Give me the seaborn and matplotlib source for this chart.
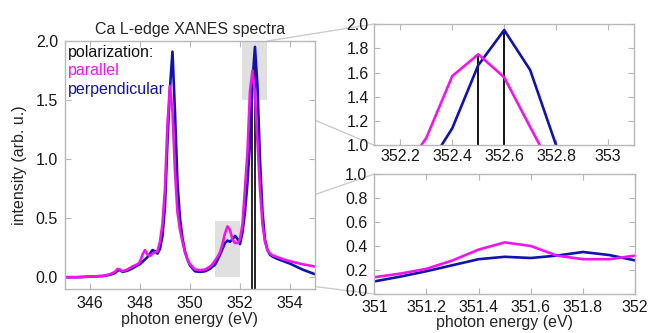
import numpy as np
import pandas as pd
import matplotlib
matplotlib.use("Agg")
import matplotlib.pyplot as plt
import seaborn as sns
from matplotlib.patches import Rectangle, ConnectionPatch
from matplotlib.ticker import FuncFormatter
from matplotlib.transforms import ScaledTranslation

# ---- data ----
energy = [345.0, 345.5, 346.0, 346.5, 346.8, 347.0, 347.1, 347.2, 347.3, 347.5,
          347.7, 347.9, 348.0, 348.1, 348.2, 348.3, 348.4, 348.5, 348.6, 348.7,
          348.8, 348.9, 349.0, 349.1, 349.2, 349.3, 349.4, 349.5, 349.6, 349.7,
          349.8, 349.9, 350.0, 350.2, 350.4, 350.6, 350.8, 350.9, 351.0, 351.1,
          351.2, 351.3, 351.4, 351.5, 351.6, 351.7, 351.8, 351.9, 352.0, 352.1,
          352.2, 352.3, 352.4, 352.5, 352.6, 352.7, 352.8, 352.9, 353.0, 353.1,
          353.2, 353.3, 353.5, 353.75, 354.0, 354.5, 355.0]
parallel = [0.00, 0.00, 0.005, 0.01, 0.025, 0.045, 0.07, 0.065, 0.05, 0.065,
            0.09, 0.11, 0.13, 0.19, 0.23, 0.19, 0.18, 0.20, 0.21, 0.22,
            0.30, 0.45, 0.75, 1.30, 1.62, 1.40, 0.90, 0.55, 0.40, 0.30,
            0.21, 0.15, 0.11, 0.065, 0.06, 0.065, 0.09, 0.11, 0.14, 0.17,
            0.21, 0.28, 0.37, 0.43, 0.40, 0.32, 0.29, 0.29, 0.32, 0.45,
            0.75, 1.06, 1.57, 1.75, 1.56, 1.15, 0.75, 0.45, 0.30, 0.23,
            0.20, 0.185, 0.17, 0.15, 0.135, 0.11, 0.09]
perpendicular = [0.00, 0.00, 0.005, 0.01, 0.02, 0.035, 0.055, 0.06, 0.045, 0.055,
                 0.075, 0.10, 0.11, 0.13, 0.15, 0.17, 0.20, 0.23, 0.22, 0.20,
                 0.24, 0.35, 0.60, 1.15, 1.60, 1.91, 1.40, 0.80, 0.50, 0.33,
                 0.22, 0.15, 0.10, 0.05, 0.045, 0.05, 0.07, 0.09, 0.105, 0.145,
                 0.19, 0.24, 0.29, 0.31, 0.30, 0.32, 0.35, 0.325, 0.28, 0.38,
                 0.55, 0.80, 1.14, 1.66, 1.95, 1.62, 1.00, 0.55, 0.32, 0.23,
                 0.19, 0.175, 0.155, 0.135, 0.115, 0.065, 0.025]
peak_positions = [352.5, 352.6]
peak_heights = [1.75, 1.95]

main_xticks = [346, 348, 350, 352, 354]
main_yticks = [0.0, 0.5, 1.0, 1.5, 2.0]
top_xticks = [352.2, 352.4, 352.6, 352.8, 353.0]
top_yticks = [1.0, 1.2, 1.4, 1.6, 1.8, 2.0]
bot_xticks = [351.0, 351.2, 351.4, 351.6, 351.8, 352.0]
bot_yticks = [0.0, 0.2, 0.4, 0.6, 0.8, 1.0]

df = pd.DataFrame({"energy": energy, "parallel": parallel, "perpendicular": perpendicular})

# ---- style ----
sns.set_theme(style="white")
plt.rcParams["font.family"] = ["Liberation Sans", "DejaVu Sans"]
MAG = "#f014f0"
BLU = "#1212b0"
SPINE = "#b8b8b8"
FS = 11.5

fig = plt.figure(figsize=(6.51, 3.33), dpi=100)
ax = fig.add_axes([0.0998, 0.1321, 0.384, 0.7447])
axt = fig.add_axes([0.575, 0.5637, 0.399, 0.3643])
axb = fig.add_axes([0.575, 0.1171, 0.4005, 0.3604])

def style(a):
    for s in a.spines.values():
        s.set_color(SPINE)
        s.set_linewidth(1.0)
    a.tick_params(direction="in", length=4, width=0.8, color=SPINE,
                  labelsize=FS, labelcolor="#1a1a1a", pad=5,
                  top=True, right=True, bottom=True, left=True)

def draw(a):
    sns.lineplot(data=df, x="energy", y="perpendicular", ax=a, color=BLU,
                 lw=1.9, estimator=None, sort=False)
    sns.lineplot(data=df, x="energy", y="parallel", ax=a, color=MAG,
                 lw=1.9, estimator=None, sort=False)

# main panel
ax.add_patch(Rectangle((352.1, 1.5), 1.0, 0.5, color="#e0e0e0", lw=0, zorder=0))
ax.add_patch(Rectangle((351.0, 0.0), 1.0, 0.48, color="#e0e0e0", lw=0, zorder=0))
ax.vlines(peak_positions, -0.1, peak_heights, color="black", lw=1.2, zorder=1)
draw(ax)
ax.set_xlim(345, 355)
ax.set_ylim(-0.1, 2.0)
ax.set_xticks(main_xticks)
ax.set_yticks(main_yticks)
ax.yaxis.set_major_formatter(FuncFormatter(lambda v, p: f"{v:.1f}"))
ax.set_xlabel("photon energy (eV)", fontsize=FS, labelpad=1)
ax.set_ylabel("intensity (arb. u.)", fontsize=FS, labelpad=6)
ax.set_title("Ca L-edge XANES spectra", fontsize=FS, pad=5)
style(ax)
ax.text(0.012, 0.953, "polarization:", transform=ax.transAxes, color="#111111",
        fontsize=FS, va="center", ha="left")
ax.text(0.012, 0.880, "parallel", transform=ax.transAxes, color=MAG,
        fontsize=FS, va="center", ha="left")
ax.text(0.012, 0.805, "perpendicular", transform=ax.transAxes, color=BLU,
        fontsize=FS, va="center", ha="left")

# top-right zoom
axt.vlines(peak_positions, 1.0, peak_heights, color="black", lw=1.3, zorder=1)
draw(axt)
axt.set_xlim(352.1, 353.1)
axt.set_ylim(1.0, 2.0)
axt.set_xticks(top_xticks)
axt.set_yticks(top_yticks)
axt.xaxis.set_major_formatter(FuncFormatter(lambda v, p: f"{round(v, 1):g}"))
axt.yaxis.set_major_formatter(FuncFormatter(lambda v, p: f"{v:.1f}"))
axt.set_xlabel("")
axt.set_ylabel("")
style(axt)
axt.tick_params(axis="x", pad=3)
axt.tick_params(axis="y", pad=4)

# bottom-right zoom
draw(axb)
axb.set_xlim(351.0, 352.0)
axb.set_ylim(0.0, 1.0)
axb.set_xticks(bot_xticks)
axb.set_yticks(bot_yticks)
axb.xaxis.set_major_formatter(FuncFormatter(lambda v, p: f"{round(v, 1):g}"))
axb.yaxis.set_major_formatter(FuncFormatter(lambda v, p: f"{v:.1f}"))
axb.set_xlabel("photon energy (eV)", fontsize=FS, labelpad=0)
axb.set_ylabel("")
style(axb)
axb.tick_params(axis="x", pad=4.5)
axb.tick_params(axis="y", pad=5)
# nudge the lowest y label up a few pixels so it clears the first x label
ylbls = axb.get_yticklabels()
ylbls[0].set_transform(ylbls[0].get_transform() + ScaledTranslation(0, 3 / 72, fig.dpi_scale_trans))

# connector lines
for (xa, ya, xb, yb, tgt) in [(353.1, 2.0, 352.1, 2.0, axt), (353.1, 1.5, 352.1, 1.0, axt),
                               (352.0, 0.48, 351.0, 1.0, axb), (352.0, 0.0, 351.0, 0.0, axb)]:
    cp = ConnectionPatch(xyA=(xa, ya), coordsA=ax.transData, xyB=(xb, yb), coordsB=tgt.transData,
                         color="#cccccc", lw=1.0, zorder=-1)
    fig.add_artist(cp)

fig.savefig("out.png", dpi=100)
